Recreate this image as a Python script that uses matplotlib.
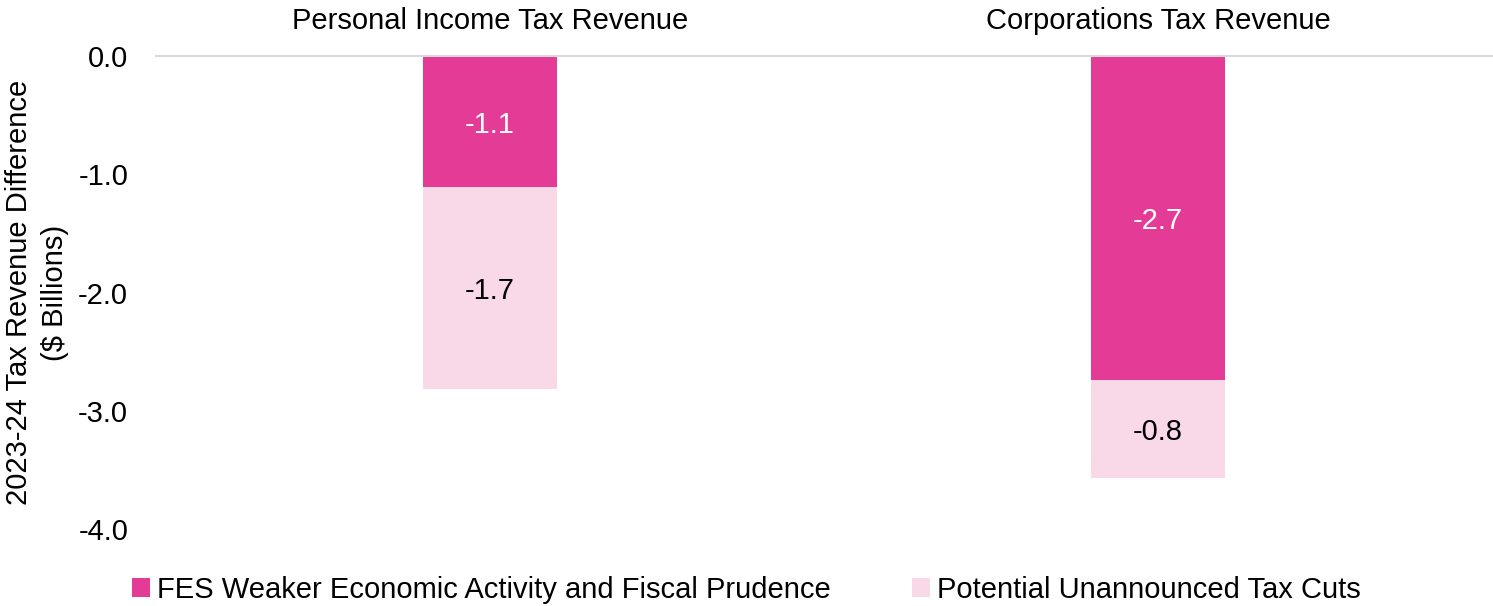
import matplotlib
matplotlib.use('Agg')
import matplotlib.pyplot as plt
import numpy as np

plt.rcParams['font.family'] = ['Liberation Sans', 'DejaVu Sans']
plt.rcParams['axes.unicode_minus'] = False

# data ($ billions)
categories = ['Personal Income Tax Revenue', 'Corporations Tax Revenue']
fes_weaker = [-1.11, -2.74]
unannounced_cuts = [-1.71, -0.83]
series_names = ['FES Weaker Economic Activity and Fiscal Prudence',
                'Potential Unannounced Tax Cuts']
y_ticks = [0.0, -1.0, -2.0, -3.0, -4.0]

dark_pink = '#E43C96'
light_pink = '#F9D8E8'
fs = 21

fig = plt.figure(figsize=(14.93, 6.06), dpi=100)
ax = fig.add_axes([0.1045, 0.127, 0.895, 0.7806])

x = np.arange(len(categories))
w = 0.2
b1 = ax.bar(x, fes_weaker, w, color=dark_pink, label=series_names[0])
b2 = ax.bar(x, unannounced_cuts, w, bottom=fes_weaker, color=light_pink,
            label=series_names[1])

# value labels in the middle of each segment
for xi, v in zip(x, fes_weaker):
    ax.text(xi, v / 2, '%.1f' % v, ha='center', va='center_baseline',
            color='white', fontsize=fs)
for xi, v, b in zip(x, unannounced_cuts, fes_weaker):
    ax.text(xi, b + v / 2, '%.1f' % v, ha='center', va='center_baseline',
            color='black', fontsize=fs)

ax.set_xlim(-0.5, 1.5)
ax.set_ylim(-4, 0)
ax.set_yticks(y_ticks)
ax.set_yticklabels(['%.1f' % t for t in y_ticks])
ax.xaxis.tick_top()
ax.set_xticks(x)
ax.set_xticklabels(categories)
ax.tick_params(axis='both', length=0, labelsize=fs)
ax.tick_params(axis='x', pad=15)
ax.tick_params(axis='y', pad=20)

for s in ['left', 'right', 'bottom']:
    ax.spines[s].set_visible(False)
ax.spines['top'].set_color('#D9D9D9')
ax.spines['top'].set_linewidth(1.5)

ax.set_ylabel('2023-24 Tax Revenue Difference\n($ Billions)', fontsize=fs,
              labelpad=7, linespacing=1.35)

fig.legend(handles=[b1, b2], loc='lower center', bbox_to_anchor=(0.5, -0.04),
           ncol=2, frameon=False, fontsize=fs, handlelength=0.6,
           handleheight=0.6, handletextpad=0.25, columnspacing=2.8)

fig.savefig('out.png', dpi=100)
